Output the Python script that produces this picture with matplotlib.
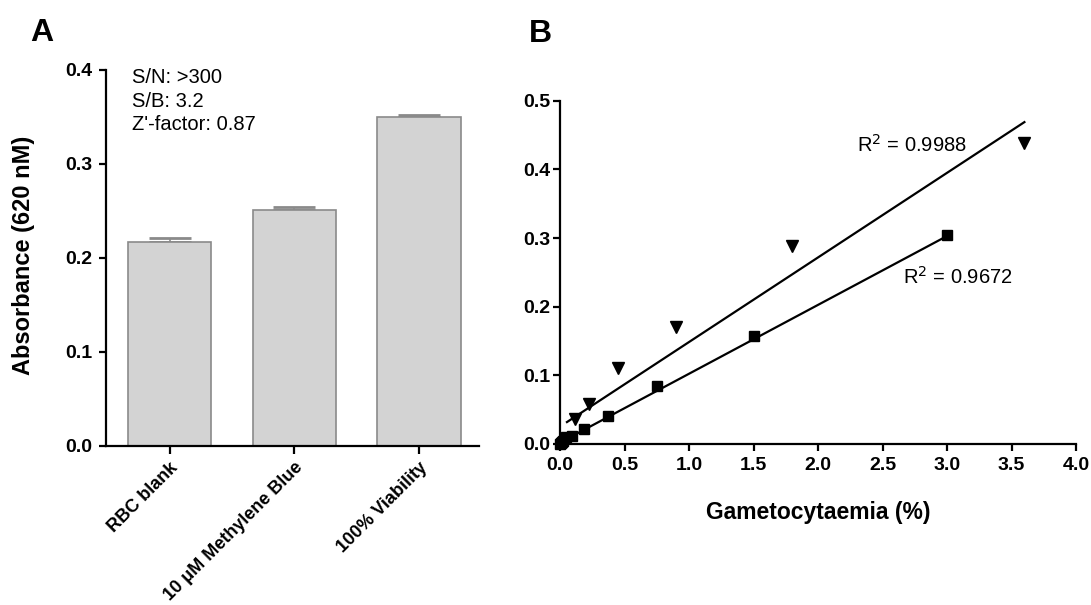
import matplotlib
matplotlib.use("Agg")
import matplotlib.pyplot as plt
import numpy as np

plt.rcParams['font.family'] = ['Liberation Sans', 'DejaVu Sans']

# ---------------- data ----------------
categories = ["RBC blank", "10 \u03bcM Methylene Blue", "100% Viability"]
absorbance = [0.217, 0.251, 0.350]
absorbance_err = [0.004, 0.0035, 0.0025]
a_yticks = [0.0, 0.1, 0.2, 0.3, 0.4]
stats_lines = ["S/N: >300", "S/B: 3.2", "Z'-factor: 0.87"]

sq_x = [0.0, 0.006, 0.012, 0.023, 0.047, 0.094, 0.1875, 0.375, 0.75, 1.5, 3.0]
sq_y = [0.0, 0.001, 0.003, 0.005, 0.010, 0.012, 0.022, 0.041, 0.085, 0.158, 0.304]
tri_x = [0.1125, 0.225, 0.45, 0.9, 1.8, 3.6]
tri_y = [0.036, 0.058, 0.111, 0.170, 0.288, 0.439]

# fitted lines (slope, intercept, x range)
tri_fit = (0.1232, 0.0253, 0.054, 3.6)
sq_fit = (0.1003, 0.002, 0.0, 3.0)
r2_tri = "R$^2$ = 0.9988"
r2_sq = "R$^2$ = 0.9672"
b_xticks = [0.0, 0.5, 1.0, 1.5, 2.0, 2.5, 3.0, 3.5, 4.0]
b_yticks = [0.0, 0.1, 0.2, 0.3, 0.4, 0.5]

# ---------------- figure ----------------
W, H = 1091, 605
fig = plt.figure(figsize=(W / 100, H / 100), dpi=100)

def frac(l, r, t, b):
    return [l / W, 1 - b / H, (r - l) / W, (b - t) / H]

TICK_FS = 14

# Panel A
axA = fig.add_axes(frac(106, 479, 70, 446))
xpos = np.arange(len(categories))
axA.bar(xpos, absorbance, width=0.67, color='#d3d3d3', edgecolor='#8a8a8a',
        linewidth=1.2, zorder=2)
axA.errorbar(xpos, absorbance, yerr=[np.zeros(len(absorbance)), absorbance_err],
             fmt='none', ecolor='#8a8a8a', elinewidth=1.2, capsize=15,
             capthick=2, zorder=1)
axA.set_xlim(-0.51, 2.48)
axA.set_ylim(0, 0.4)
axA.set_yticks(a_yticks)
axA.set_yticklabels([f"{v:.1f}" for v in a_yticks])
axA.set_xticks(xpos)
axA.set_xticklabels(categories, rotation=45, ha='right', rotation_mode='anchor',
                    fontsize=13, fontweight='bold')
for lab in axA.get_yticklabels():
    lab.set_fontsize(TICK_FS)
    lab.set_fontweight('bold')
axA.spines['top'].set_visible(False)
axA.spines['right'].set_visible(False)
for s in ('left', 'bottom'):
    axA.spines[s].set_linewidth(1.6)
axA.tick_params(axis='y', length=5, width=1.6, pad=5)
axA.tick_params(axis='x', length=5.5, width=1.6, pad=4)
fig.text(24 / W, 1 - 255 / H, "Absorbance (620 nM)", fontsize=17,
         fontweight='bold', rotation=90, ha='center', va='center')
for i, t in enumerate(stats_lines):
    axA.text(0.07, 0.98 - i * 0.0625, t, transform=axA.transAxes,
             fontsize=14.5, va='center', ha='left')

# Panel B
axB = fig.add_axes(frac(560, 1076, 100.7, 444))
fx = np.array([tri_fit[2], tri_fit[3]])
axB.plot(fx, tri_fit[0] * fx + tri_fit[1], color='black', lw=1.6, zorder=2)
fx2 = np.array([sq_fit[2], sq_fit[3]])
axB.plot(fx2, sq_fit[0] * fx2 + sq_fit[1], color='black', lw=1.6, zorder=2)
axB.plot(sq_x, sq_y, linestyle='none', marker='s', markersize=7.5,
         color='black', clip_on=False, zorder=3)
axB.plot(tri_x, tri_y, linestyle='none', marker='v', markersize=8.5,
         color='black', clip_on=False, zorder=3)
axB.set_xlim(0, 4.0)
axB.set_ylim(0, 0.5)
axB.set_xticks(b_xticks)
axB.set_xticklabels([f"{v:.1f}" for v in b_xticks])
axB.set_yticks(b_yticks)
axB.set_yticklabels([f"{v:.1f}" for v in b_yticks])
for lab in axB.get_xticklabels() + axB.get_yticklabels():
    lab.set_fontsize(TICK_FS)
    lab.set_fontweight('bold')
axB.spines['top'].set_visible(False)
axB.spines['right'].set_visible(False)
for s in ('left', 'bottom'):
    axB.spines[s].set_linewidth(1.6)
axB.tick_params(axis='y', length=5, width=1.6, pad=2)
axB.tick_params(axis='x', length=5, width=1.6, pad=4)
axB.set_xlabel("Gametocytaemia (%)", fontsize=16.5, fontweight='bold', labelpad=20)
axB.text(2.30, 0.435, r2_tri, fontsize=14.5, va='center', ha='left')
axB.text(2.66, 0.243, r2_sq, fontsize=14.5, va='center', ha='left')

# Panel letters
fig.text(42 / W, 1 - 33 / H, "A", fontsize=23, fontweight='bold', ha='center', va='center')
fig.text(540 / W, 1 - 34 / H, "B", fontsize=23, fontweight='bold', ha='center', va='center')

fig.savefig("out.png", dpi=100)
